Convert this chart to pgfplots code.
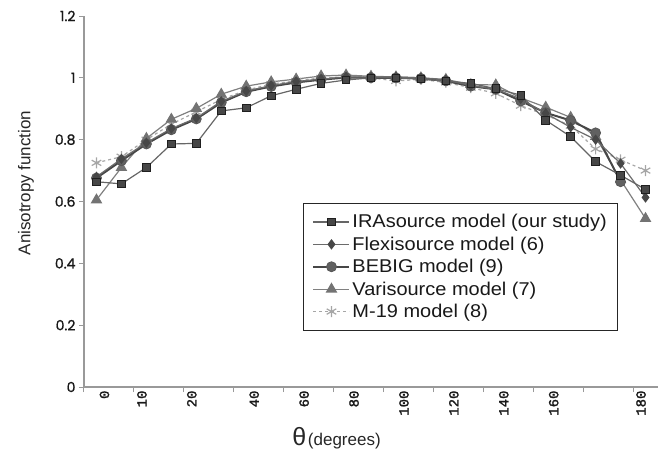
\documentclass[border=0pt]{standalone}
\usepackage{pgfplots}
\usepackage{pgfplotstable}
\pgfplotsset{compat=1.18}
\usepackage{fontspec}
\setmainfont{Liberation Sans}
\newfontfamily\monofont{Liberation Mono}[FakeBold=1.5]
\newfontfamily\popfont{Poppins}[FakeBold=1.2]
\newfontfamily\legfont{Liberation Sans}[FakeStretch=1.08]

% i = category index (Excel category axis)
\pgfplotstableread{
i   sq     di     ci     tr     st
0   0.664  0.680  0.676  0.605  0.725
1   0.657  0.738  0.732  0.710  0.745
2   0.710  0.790  0.786  0.804  0.800
3   0.786  0.836  0.832  0.866  0.850
4   0.788  0.870  0.867  0.901  0.890
5   0.893  0.924  0.920  0.947  0.930
6   0.903  0.957  0.955  0.973  0.960
7   0.942  0.975  0.972  0.987  0.980
8   0.963  0.988  0.985  0.996  0.990
9   0.982  0.996  0.994  1.006  1.000
10  0.993  1.003  1.001  1.009  1.003
11  1.000  1.002  1.000  1.005  1.000
12  1.000  1.003  1.000  1.003  0.990
13  0.996  1.000  0.998  1.000  0.995
14  0.990  0.993  0.990  0.995  0.985
15  0.982  0.975  0.973  0.978  0.968
16  0.965  0.963  0.963  0.977  0.950
17  0.944  0.932  0.925  0.935  0.910
18  0.863  0.885  0.887  0.905  0.880
19  0.810  0.840  0.862  0.872  0.845
20  0.729  0.800  0.822  0.810  0.770
21  0.685  0.723  0.664  0.670  0.735
22  0.639  0.613  nan    0.545  0.700
}\datatable

\begin{document}
\begin{tikzpicture}
\path[use as bounding box] (-84pt,-64pt) rectangle (580pt,387pt);
\begin{axis}[
  scale only axis, width=574pt, height=371pt,
  xmin=-0.5, xmax=22.5, ymin=0, ymax=1.2,
  axis lines=left,
  axis line style={draw=black!40, line width=1.2pt, -},
  tick style={draw=black!40, line width=1pt},
  tick align=outside, major tick length=5pt,
  /pgf/number format/assume math mode=true,
  ytick={0,0.2,0.4,0.6,0.8,1,1.2},
  yticklabel style={font=\popfont\fontsize{14}{14}\selectfont, text=black!90},
  xtick={-0.5,1.5,3.5,5.5,7.5,9.5,11.5,13.5,15.5,17.5,19.5,21.5},
  xticklabels={},
  extra x ticks={0,1.5,3.5,6,8,10,12,14,16,18,21.5},
  extra x tick labels={0,10,20,40,60,80,100,120,140,160,180},
  extra x tick style={major tick length=0pt,
    tick label style={rotate=90, anchor=east, yshift=-8pt,
      font=\monofont\fontsize{14}{14}\selectfont, text=black!90}},
  ylabel={Anisotropy function},
  ylabel style={at={(axis description cs:-0.101,0.55)}, anchor=center,
    font=\fontsize{17}{17}\selectfont, text=black!85},
  xlabel={{\fontsize{25}{25}\selectfont θ}\,{\fontsize{17}{17}\selectfont(degrees)}},
  xlabel style={at={(axis description cs:0.44,-0.137)}, anchor=center, text=black!85},
  legend style={at={(axis description cs:0.3815,0.496)}, anchor=north west,
    draw=black!85, line width=1pt, font=\legfont\fontsize{18.5}{21}\selectfont,
    text=black!90, row sep=3.5pt, inner xsep=9pt, inner ysep=9pt},
  legend cell align=left,
  reverse legend,
  legend image code/.code={\draw[mark repeat=2,mark phase=2,#1]
    plot coordinates {(0pt,0pt)(18pt,0pt)(36pt,0pt)};},
]
\addplot[black!35, line width=1.2pt, dashed, mark=asterisk, mark size=5.5pt,
  mark options={solid, line width=1.2pt}] table[x=i, y=st] {\datatable};
\addplot[black!50, line width=1.2pt, mark=triangle*, mark size=5.5pt,
  mark options={fill=black!55, draw=black!55}] table[x=i, y=tr] {\datatable};
\addplot[black!72, line width=2pt, mark=*, mark size=5pt,
  mark options={fill=black!62, draw=black!66, line width=0.8pt}] table[x=i, y=ci] {\datatable};
\addplot[black!58, line width=1.2pt, mark=diamond*, mark size=4.3pt,
  mark options={fill=black!72, draw=black!72}] table[x=i, y=di] {\datatable};
\addplot[black!60, line width=1.2pt, mark=square*, mark size=3.8pt,
  mark options={fill=black!72, draw=black!88, line width=0.8pt}] table[x=i, y=sq] {\datatable};
\legend{M-19 model (8), Varisource model (7), BEBIG model (9), Flexisource model (6), IRAsource model (our study)}
\end{axis}
\end{tikzpicture}
\end{document}
